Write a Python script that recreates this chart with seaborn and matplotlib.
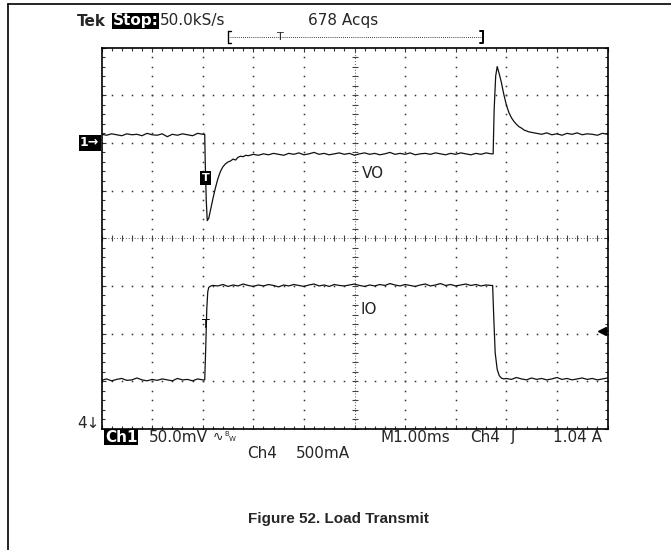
import numpy as np
import pandas as pd
import matplotlib.pyplot as plt
import seaborn as sns
from matplotlib.ticker import MultipleLocator

# --- data (x in divisions of 1 ms, y in divisions) ---
vo_time = [0.0, 0.1, 0.2, 0.3, 0.4, 0.5, 0.6, 0.7, 0.8, 0.9, 1.0, 1.1, 1.2, 1.3, 1.4,
           1.5, 1.6, 1.7, 1.8, 1.9, 2.0,
           2.04, 2.05, 2.07, 2.09, 2.12, 2.16, 2.20, 2.25, 2.30, 2.35, 2.40, 2.45,
           2.50, 2.55, 2.60, 2.65, 2.70, 2.75, 2.80, 2.85,
           2.9, 3.0, 3.1, 3.2, 3.3, 3.4, 3.5, 3.6, 3.7, 3.8, 3.9, 4.0, 4.1, 4.2, 4.3,
           4.4, 4.5, 4.6, 4.7, 4.8, 4.9, 5.0, 5.1, 5.2, 5.3, 5.4, 5.5, 5.6, 5.7, 5.8,
           5.9, 6.0, 6.1, 6.2, 6.3, 6.4, 6.5, 6.6, 6.7, 6.8, 6.9, 7.0, 7.1, 7.2, 7.3,
           7.4, 7.5, 7.6, 7.7,
           7.74, 7.76, 7.79, 7.82, 7.86, 7.90, 7.95, 8.00, 8.05, 8.10, 8.15, 8.20,
           8.25, 8.30, 8.35, 8.40, 8.45, 8.50,
           8.6, 8.7, 8.8, 8.9, 9.0, 9.1, 9.2, 9.3, 9.4, 9.5, 9.6, 9.7, 9.8, 9.9, 10.0]
vo_level = [2.18, 2.16, 2.19, 2.17, 2.15, 2.19, 2.17, 2.18, 2.15, 2.20, 2.17, 2.16, 2.19,
            2.13, 2.18, 2.16, 2.19, 2.17, 2.15, 2.20, 2.18,
            2.18, 1.60, 0.80, 0.37, 0.42, 0.62, 0.82, 1.05, 1.25, 1.40, 1.50, 1.56,
            1.60, 1.62, 1.66, 1.64, 1.70, 1.72, 1.71, 1.74,
            1.73, 1.76, 1.74, 1.77, 1.75, 1.78, 1.76, 1.74, 1.78, 1.76,
            1.79, 1.75, 1.77, 1.80, 1.76, 1.78, 1.75, 1.77, 1.79, 1.76,
            1.78, 1.74, 1.77, 1.79, 1.76, 1.78, 1.75, 1.77, 1.80, 1.76,
            1.78, 1.76, 1.79, 1.75, 1.77, 1.78, 1.76, 1.79, 1.77, 1.75,
            1.78, 1.76, 1.79, 1.77, 1.75, 1.78, 1.76, 1.79, 1.77,
            1.77, 2.70, 3.40, 3.60, 3.45, 3.28, 3.02, 2.80, 2.64, 2.53, 2.45, 2.39,
            2.34, 2.31, 2.27, 2.25, 2.23, 2.22,
            2.20, 2.18, 2.21, 2.17, 2.19, 2.16, 2.20, 2.18, 2.21, 2.17, 2.19, 2.18,
            2.16, 2.20, 2.18]

io_time = [0.0, 0.1, 0.2, 0.3, 0.4, 0.5, 0.6, 0.7, 0.8, 0.9, 1.0, 1.1, 1.2, 1.3, 1.4,
           1.5, 1.6, 1.7, 1.8, 1.9, 2.0,
           2.04, 2.06, 2.08, 2.10, 2.12, 2.16, 2.20,
           2.3, 2.4, 2.5, 2.6, 2.7, 2.8, 2.9, 3.0, 3.1, 3.2, 3.3, 3.4, 3.5, 3.6, 3.7,
           3.8, 3.9, 4.0, 4.1, 4.2, 4.3, 4.4, 4.5, 4.6, 4.7, 4.8, 4.9, 5.0, 5.1, 5.2,
           5.3, 5.4, 5.5, 5.6, 5.7, 5.8, 5.9, 6.0, 6.1, 6.2, 6.3, 6.4, 6.5, 6.6, 6.7,
           6.8, 6.9, 7.0, 7.1, 7.2, 7.3, 7.4, 7.5, 7.6, 7.7,
           7.73, 7.75, 7.78, 7.82, 7.86, 7.90, 7.95, 8.0,
           8.1, 8.2, 8.3, 8.4, 8.5, 8.6, 8.7, 8.8, 8.9, 9.0, 9.1, 9.2, 9.3, 9.4, 9.5,
           9.6, 9.7, 9.8, 9.9, 10.0]
io_level = [-2.98, -2.95, -2.99, -2.96, -2.94, -2.98, -2.97, -2.93, -2.97, -2.99, -2.96,
            -2.98, -2.95, -2.97, -2.99, -2.94, -2.97, -2.96, -2.99, -2.95, -2.97,
            -2.97, -2.30, -1.50, -1.12, -1.03, -1.00, -0.99,
            -1.00, -0.97, -1.01, -0.98, -1.00, -0.96, -0.99, -1.01, -0.98, -1.00,
            -0.97, -0.99, -1.02, -0.98, -1.00, -0.97, -0.99, -1.01, -0.98, -0.96,
            -1.00, -0.98, -1.01, -0.97, -0.99, -1.00, -0.98, -0.96, -0.99, -1.01,
            -0.98, -1.00, -0.97, -0.99, -0.95, -0.98, -1.00, -0.97, -0.99, -1.01,
            -0.98, -0.96, -1.00, -0.98, -0.95, -0.99, -0.97, -1.00, -0.98, -0.96,
            -0.99, -0.97, -1.00, -0.98, -0.99,
            -0.99, -1.60, -2.40, -2.75, -2.88, -2.93, -2.95, -2.94,
            -2.96, -2.92, -2.95, -2.97, -2.93, -2.96, -2.94, -2.97, -2.95, -2.92,
            -2.96, -2.94, -2.97, -2.95, -2.93, -2.96, -2.94, -2.97, -2.95, -2.93]

vo = pd.DataFrame({"t": vo_time, "v": vo_level})
io = pd.DataFrame({"t": io_time, "v": io_level})

W, H = 671, 550
sns.set_style("white")
plt.rcParams['font.family'] = ['DejaVu Sans']

fig = plt.figure(figsize=(W / 100, H / 100), dpi=100)

# screen area in pixels: left 101.5, top 47.5, right 607.5, bottom 429
L, T, R, B = 101.5, 47.5, 607.5, 429
ax = fig.add_axes([L / W, 1 - B / H, (R - L) / W, (B - T) / H])
ax.set_xlim(0, 10)
ax.set_ylim(-4, 4)
for s in ax.spines.values():
    s.set_color("black")
    s.set_linewidth(1.2)
ax.xaxis.set_major_locator(MultipleLocator(1))
ax.xaxis.set_minor_locator(MultipleLocator(0.2))
ax.yaxis.set_major_locator(MultipleLocator(1))
ax.yaxis.set_minor_locator(MultipleLocator(0.2))
ax.tick_params(which="both", direction="in", top=True, right=True, bottom=True, left=True,
               labelbottom=False, labelleft=False, color="#333333", width=0.8)
ax.tick_params(which="major", length=3)
ax.tick_params(which="minor", length=2.5)

# dotted graticule
dots = np.arange(0, 10.01, 0.2)
vdots = np.arange(-4, 4.01, 0.2)
for i in [1, 2, 3, 4, 6, 7, 8, 9]:
    ax.plot([i] * len(vdots), vdots, ls="none", marker="s", ms=1.1, color="#333333", mew=0)
for j in [-3, -2, -1, 1, 2, 3]:
    ax.plot(dots, [j] * len(dots), ls="none", marker="s", ms=1.1, color="#333333", mew=0)
ax.axhline(0, color="#555555", lw=0.7, ls=(0, (1, 2)))
ax.axvline(5, color="#555555", lw=0.7, ls=(0, (1, 2)))
ax.plot(dots, [0] * len(dots), ls="none", marker="|", ms=4, mew=0.8, color="#444444")
ax.plot([5] * len(vdots), vdots, ls="none", marker="_", ms=4, mew=0.8, color="#444444")

# traces
sns.lineplot(data=vo, x="t", y="v", color="#111111", lw=0.9, ax=ax, estimator=None, sort=False)
sns.lineplot(data=io, x="t", y="v", color="#111111", lw=0.9, ax=ax, estimator=None, sort=False)
ax.set_xlabel("")
ax.set_ylabel("")

# overlay in pixel coordinates for the scope annotations
ov = fig.add_axes([0, 0, 1, 1])
ov.set_xlim(0, W)
ov.set_ylim(H, 0)
ov.axis("off")
ov.patch.set_alpha(0)

# page border (left and top only)
ov.plot([8, 8], [4, H], color="black", lw=1.2)
ov.plot([8, W], [4, 4], color="black", lw=1.2)

fs = 11
ov.text(77, 21, "Tek", fontsize=fs, fontweight="bold", va="center")
ov.text(113, 21, "Stop:", fontsize=fs, fontweight="bold", va="center", color="white",
        bbox=dict(facecolor="black", edgecolor="none", pad=0.4))
ov.text(160, 21, "50.0kS/s", fontsize=fs, va="center")
ov.text(308, 21, "678 Acqs", fontsize=fs, va="center")

# record-position bracket
ov.plot([230, 482], [37, 37], color="black", lw=0.6, ls=(0, (1, 1.5)))
ov.plot([228, 228, 231], [31, 43, 43], color="black", lw=1)
ov.plot([228, 231], [31, 31], color="black", lw=1)
ov.plot([483, 483, 480], [31, 43, 43], color="black", lw=1.4)
ov.plot([480, 483], [31, 31], color="black", lw=1.4)
ov.text(280, 37, "T", fontsize=8, ha="center", va="center")

# channel markers
ov.text(89.5, 143, "1\u2192", fontsize=9, fontweight="bold", ha="center", va="center",
        color="white", bbox=dict(facecolor="black", edgecolor="none", pad=1.0))
ov.text(88, 423, "4\u2193", fontsize=fs, ha="center", va="center")
ov.plot([602], [331], marker="<", ms=6, color="black", ls="none")
ov.plot([602, 608], [331, 331], color="black", lw=1.2)

# trigger markers
ov.text(205.5, 178, "T", fontsize=8, fontweight="bold", ha="center", va="center",
        color="white", bbox=dict(facecolor="black", edgecolor="none", pad=1.5))
ov.text(206, 324, "T", fontsize=9, ha="center", va="center", color="black")

ov.text(362, 174, "VO", fontsize=fs, va="center")
ov.text(360, 309, "IO", fontsize=fs, va="center")

# readouts
ov.text(105, 437, "Ch1", fontsize=fs, fontweight="bold", va="center", color="white",
        bbox=dict(facecolor="black", edgecolor="none", pad=0.4))
ov.text(149, 437, "50.0mV", fontsize=fs, va="center")
ov.text(213, 437, "\u223f", fontsize=9, va="center")
ov.text(224, 434, "B", fontsize=5, va="center")
ov.text(229, 439, "W", fontsize=5, va="center")
ov.text(247, 454, "Ch4", fontsize=fs, va="center")
ov.text(296, 454, "500mA", fontsize=fs, va="center")
ov.text(380, 437, "M1.00ms", fontsize=fs, va="center")
ov.text(470, 437, "Ch4", fontsize=fs, va="center")
ov.text(510, 437, "\u0283", fontsize=fs, va="center")
ov.text(553, 437, "1.04 A", fontsize=fs, va="center")

ov.text(338, 519, "Figure 52. Load Transmit", fontsize=11, fontweight="bold",
        ha="center", va="center", family=["Liberation Sans"])

fig.savefig("out.png", dpi=100)
